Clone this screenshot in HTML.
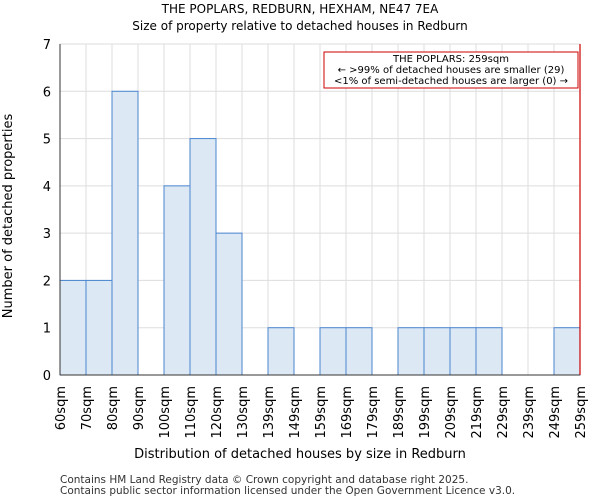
<!DOCTYPE html>
<html><head><meta charset="utf-8"><style>
body{margin:0;background:#fff}
svg{display:block;font-family:"DejaVu Sans","Liberation Sans",sans-serif}
</style></head><body>
<svg id="c" width="600" height="500" viewBox="0 0 600 500">
<text x="300" y="13" text-anchor="middle" font-size="12">THE POPLARS, REDBURN, HEXHAM, NE47 7EA</text>
<text x="300" y="30" text-anchor="middle" font-size="12">Size of property relative to detached houses in Redburn</text>
<g id="grid"></g><g id="bars"></g><g id="axes"></g>
<text x="300" y="458" text-anchor="middle" font-size="13">Distribution of detached houses by size in Redburn</text>
<text transform="translate(12,216) rotate(-90)" text-anchor="middle" font-size="13">Number of detached properties</text>
<rect x="324" y="52" width="254" height="36" fill="#fff" stroke="#cc0000" stroke-width="1"/>
<text x="451" y="62" text-anchor="middle" font-size="10">THE POPLARS: 259sqm</text>
<text x="451" y="73" text-anchor="middle" font-size="10">← &gt;99% of detached houses are smaller (29)</text>
<text x="451" y="84" text-anchor="middle" font-size="10">&lt;1% of semi-detached houses are larger (0) →</text>
<text x="60" y="483" font-size="10.5" fill="#333">Contains HM Land Registry data © Crown copyright and database right 2025.</text>
<text x="60" y="494" font-size="10.5" fill="#333">Contains public sector information licensed under the Open Government Licence v3.0.</text>
</svg>
<script>
const categories=["60sqm","70sqm","80sqm","90sqm","100sqm","110sqm","120sqm","130sqm","139sqm","149sqm","159sqm","169sqm","179sqm","189sqm","199sqm","209sqm","219sqm","229sqm","239sqm","249sqm"];
const edgeLabels=["60sqm","70sqm","80sqm","90sqm","100sqm","110sqm","120sqm","130sqm","139sqm","149sqm","159sqm","169sqm","179sqm","189sqm","199sqm","209sqm","219sqm","229sqm","239sqm","249sqm","259sqm"];
const counts=[2,2,6,0,4,5,3,0,1,0,1,1,0,1,1,1,1,0,0,1];
const yTicks=[0,1,2,3,4,5,6,7];
const markerIndex=20;
const X0=60,X1=580,Y0=375,Y1=44,yMax=7;
const bw=(X1-X0)/categories.length;
const xe=i=>X0+i*bw;
const y=v=>Y0-(v/yMax)*(Y0-Y1);
const NS="http://www.w3.org/2000/svg";
function mk(t,a,p){const e=document.createElementNS(NS,t);for(const k in a)e.setAttribute(k,a[k]);p.appendChild(e);return e;}
const g=document.getElementById('grid'),b=document.getElementById('bars'),ax=document.getElementById('axes');
yTicks.forEach(t=>{
 const l=mk('line',{x1:X0,x2:X1,y1:y(t),y2:y(t),stroke:'#ddd'},g);
 
 
 const tx=mk('text',{x:X0-9,y:y(t)+5,'text-anchor':'end','font-size':13},ax);
 tx.textContent=t;
 
 
});
edgeLabels.forEach((s,i)=>{
 const l=mk('line',{x1:xe(i),x2:xe(i),y1:Y1,y2:Y0,stroke:'#ddd'},g);
 
 
 const tx=mk('text',{transform:`translate(${xe(i)+5},386) rotate(-90)`,'text-anchor':'end','font-size':13},ax);
 tx.textContent=s;
 
 
});
counts.forEach((v,i)=>{
 if(v<=0)return;
 const r=mk('rect',{x:xe(i),y:y(v),width:bw,height:Y0-y(v),fill:'#dde8f5',stroke:'#4a86d0','stroke-width':1},b);
 
 
});
const m=mk('line',{x1:xe(markerIndex),x2:xe(markerIndex),y1:Y1,y2:Y0,stroke:'#cc0000','stroke-width':1.2},ax);


const a=mk('line',{x1:X0,x2:X0,y1:Y1,y2:Y0,stroke:'#333'},ax);


const a2=mk('line',{x1:X0,x2:X1,y1:Y0,y2:Y0,stroke:'#333'},ax);


</script>
</body></html>
